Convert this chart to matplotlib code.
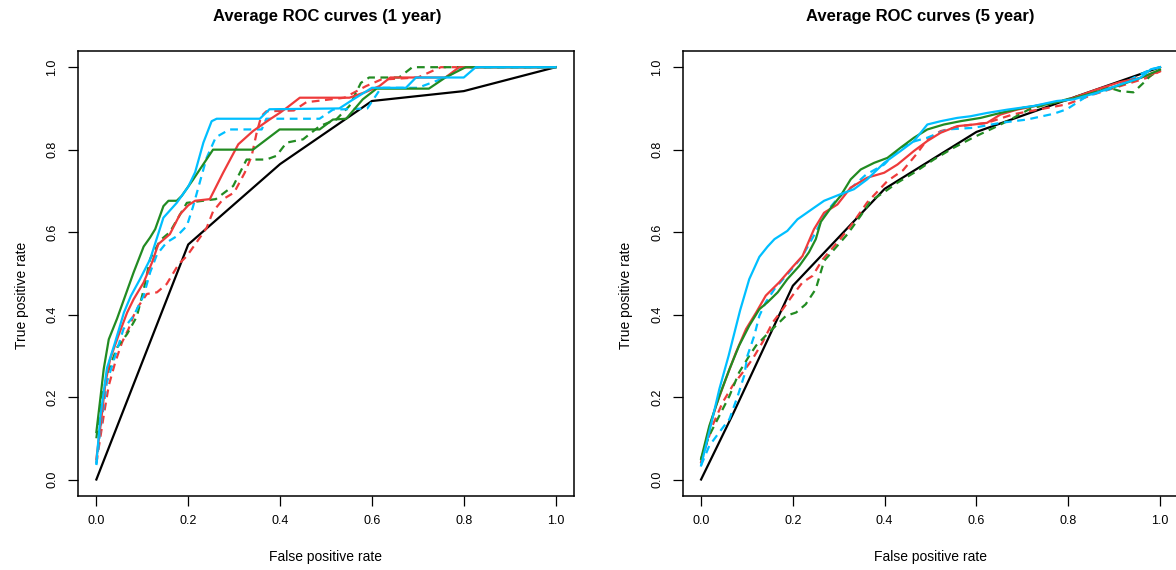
import matplotlib
matplotlib.use("Agg")
import matplotlib.pyplot as plt

plt.rcParams['font.family'] = ['Liberation Sans', 'DejaVu Sans']

# ---- 1 year ----
fpr_black_1y = [0, 0.2, 0.4, 0.6, 0.8, 1.0]
tpr_black_1y = [0, 0.57, 0.765, 0.918, 0.942, 1.0]

fpr_red_1y = [0, 0.009, 0.02, 0.03, 0.048, 0.067, 0.081, 0.103, 0.121, 0.135, 0.16, 0.182,
              0.2, 0.215, 0.247, 0.276, 0.309, 0.341, 0.377, 0.399, 0.414, 0.443, 0.551,
              0.587, 0.616, 0.64, 0.76, 0.79, 1.0]
tpr_red_1y = [0.05, 0.13, 0.236, 0.292, 0.349, 0.405, 0.437, 0.478, 0.526, 0.571, 0.595, 0.643,
              0.665, 0.676, 0.68, 0.744, 0.813, 0.845, 0.873, 0.889, 0.901, 0.926, 0.926,
              0.94, 0.954, 0.975, 0.975, 1.0, 1.0]

fpr_reddash_1y = [0, 0.016, 0.027, 0.041, 0.056, 0.07, 0.081, 0.092, 0.11, 0.132, 0.153, 0.179,
                  0.197, 0.218, 0.24, 0.254, 0.276, 0.3, 0.323, 0.338, 0.349, 0.359, 0.37,
                  0.43, 0.457, 0.54, 0.587, 0.62, 0.7, 0.75, 1.0]
tpr_reddash_1y = [0.04, 0.155, 0.228, 0.284, 0.333, 0.365, 0.397, 0.421, 0.45, 0.454, 0.474, 0.522,
                  0.542, 0.575, 0.61, 0.65, 0.68, 0.696, 0.744, 0.784, 0.841, 0.881, 0.893,
                  0.895, 0.915, 0.926, 0.954, 0.97, 0.975, 1.0, 1.0]

fpr_green_1y = [0, 0.009, 0.016, 0.027, 0.045, 0.063, 0.081, 0.103, 0.117, 0.128, 0.146, 0.157,
                0.175, 0.186, 0.211, 0.254, 0.341, 0.399, 0.486, 0.515, 0.544, 0.58, 0.61,
                0.724, 0.76, 0.804, 1.0]
tpr_green_1y = [0.115, 0.2, 0.268, 0.34, 0.39, 0.446, 0.502, 0.565, 0.587, 0.607, 0.663, 0.676,
                0.676, 0.688, 0.728, 0.8, 0.8, 0.849, 0.849, 0.873, 0.875, 0.922, 0.948,
                0.948, 0.975, 1.0, 1.0]

fpr_greendash_1y = [0, 0.01, 0.025, 0.045, 0.067, 0.088, 0.103, 0.117, 0.139, 0.16, 0.197, 0.26,
                    0.298, 0.327, 0.37, 0.392, 0.414, 0.45, 0.486, 0.522, 0.551, 0.576, 0.594,
                    0.659, 0.688, 1.0]
tpr_greendash_1y = [0.1, 0.19, 0.26, 0.32, 0.353, 0.395, 0.46, 0.535, 0.58, 0.6, 0.671, 0.68,
                    0.712, 0.776, 0.776, 0.785, 0.817, 0.825, 0.857, 0.873, 0.906, 0.962, 0.975,
                    0.975, 1.0, 1.0]

fpr_blue_1y = [0, 0.009, 0.023, 0.04, 0.06, 0.075, 0.095, 0.117, 0.146, 0.175, 0.2, 0.215,
               0.233, 0.251, 0.262, 0.356, 0.377, 0.529, 0.558, 0.6, 0.674, 0.696, 0.8,
               0.826, 1.0]
tpr_blue_1y = [0.04, 0.155, 0.27, 0.33, 0.405, 0.445, 0.486, 0.534, 0.635, 0.671, 0.71, 0.745,
               0.817, 0.869, 0.875, 0.875, 0.898, 0.9, 0.921, 0.95, 0.95, 0.975, 0.975,
               1.0, 1.0]

fpr_bluedash_1y = [0, 0.009, 0.023, 0.041, 0.059, 0.081, 0.103, 0.117, 0.132, 0.153, 0.175, 0.197,
                   0.21, 0.225, 0.24, 0.26, 0.29, 0.36, 0.37, 0.486, 0.515, 0.59, 0.62, 0.7,
                   0.76, 0.8, 1.0]
tpr_bluedash_1y = [0.035, 0.123, 0.236, 0.3, 0.365, 0.397, 0.446, 0.502, 0.546, 0.575, 0.59, 0.615,
                   0.66, 0.72, 0.78, 0.83, 0.849, 0.849, 0.875, 0.875, 0.897, 0.9, 0.95, 0.95,
                   0.975, 1.0, 1.0]

# ---- 5 year ----
fpr_black_5y = [0, 0.07, 0.2, 0.4, 0.6, 0.8, 1.0]
tpr_black_5y = [0, 0.16, 0.47, 0.705, 0.843, 0.922, 1.0]

fpr_red_5y = [0, 0.018, 0.033, 0.054, 0.076, 0.098, 0.12, 0.141, 0.17, 0.199, 0.221, 0.246,
              0.268, 0.297, 0.326, 0.362, 0.399, 0.428, 0.464, 0.493, 0.522, 0.558, 0.594,
              0.623, 0.652, 0.688, 0.746, 0.797, 0.862, 0.913, 0.957, 1.0]
tpr_red_5y = [0.042, 0.125, 0.18, 0.244, 0.308, 0.365, 0.405, 0.446, 0.478, 0.515, 0.542, 0.607,
              0.647, 0.667, 0.708, 0.732, 0.744, 0.764, 0.797, 0.821, 0.841, 0.857, 0.861,
              0.865, 0.885, 0.897, 0.91, 0.92, 0.946, 0.964, 0.974, 0.99]

fpr_reddash_5y = [0, 0.011, 0.025, 0.047, 0.069, 0.091, 0.112, 0.134, 0.156, 0.178, 0.199, 0.221,
                  0.243, 0.265, 0.297, 0.326, 0.362, 0.406, 0.44, 0.47, 0.493, 0.522, 0.565,
                  0.623, 0.681, 0.739, 0.797, 0.855, 0.913, 0.971, 1.0]
tpr_reddash_5y = [0.04, 0.082, 0.131, 0.187, 0.228, 0.26, 0.292, 0.333, 0.381, 0.413, 0.446, 0.478,
                  0.494, 0.534, 0.575, 0.615, 0.672, 0.724, 0.75, 0.79, 0.825, 0.845, 0.857,
                  0.865, 0.886, 0.898, 0.91, 0.934, 0.954, 0.974, 0.99]

fpr_green_5y = [0, 0.018, 0.04, 0.062, 0.083, 0.105, 0.127, 0.145, 0.167, 0.188, 0.214, 0.235,
                0.25, 0.261, 0.283, 0.304, 0.326, 0.348, 0.377, 0.406, 0.435, 0.464, 0.493,
                0.529, 0.565, 0.609, 0.652, 0.703, 0.754, 0.804, 0.855, 0.906, 0.957, 1.0]
tpr_green_5y = [0.05, 0.13, 0.203, 0.268, 0.325, 0.373, 0.413, 0.43, 0.454, 0.486, 0.518, 0.551,
                0.583, 0.625, 0.659, 0.688, 0.728, 0.752, 0.768, 0.78, 0.805, 0.829, 0.849,
                0.861, 0.869, 0.877, 0.889, 0.902, 0.91, 0.922, 0.938, 0.954, 0.974, 0.994]

fpr_greendash_5y = [0, 0.018, 0.04, 0.062, 0.083, 0.105, 0.12, 0.141, 0.163, 0.185, 0.207, 0.228,
                    0.25, 0.268, 0.297, 0.319, 0.348, 0.37, 0.399, 0.428, 0.464, 0.507, 0.551,
                    0.594, 0.638, 0.674, 0.715, 0.754, 0.797, 0.841, 0.884, 0.913, 0.942, 0.964,
                    0.978, 1.0]
tpr_greendash_5y = [0.05, 0.107, 0.155, 0.203, 0.26, 0.3, 0.325, 0.349, 0.373, 0.397, 0.405, 0.425,
                    0.462, 0.53, 0.567, 0.595, 0.64, 0.676, 0.697, 0.72, 0.744, 0.776, 0.805,
                    0.83, 0.853, 0.873, 0.898, 0.91, 0.922, 0.936, 0.952, 0.942, 0.939, 0.962,
                    0.978, 0.994]

fpr_blue_5y = [0, 0.02, 0.04, 0.06, 0.085, 0.105, 0.127, 0.145, 0.16, 0.188, 0.21, 0.246,
               0.268, 0.304, 0.333, 0.362, 0.399, 0.435, 0.464, 0.493, 0.522, 0.558, 0.587,
               0.623, 0.667, 0.725, 0.775, 0.812, 0.862, 0.913, 0.957, 0.98, 1.0]
tpr_blue_5y = [0.034, 0.125, 0.22, 0.3, 0.41, 0.486, 0.54, 0.565, 0.583, 0.603, 0.631, 0.659,
               0.676, 0.692, 0.704, 0.728, 0.768, 0.797, 0.821, 0.861, 0.869, 0.877, 0.881,
               0.889, 0.897, 0.906, 0.918, 0.922, 0.938, 0.958, 0.974, 0.995, 1.0]

fpr_bluedash_5y = [0, 0.018, 0.04, 0.062, 0.08, 0.094, 0.101, 0.116, 0.127, 0.141, 0.16, 0.19,
                   0.22, 0.25, 0.27, 0.3, 0.33, 0.36, 0.399, 0.435, 0.464, 0.493, 0.536, 0.594,
                   0.652, 0.71, 0.768, 0.797, 0.841, 0.899, 0.942, 0.978, 1.0]
tpr_bluedash_5y = [0.034, 0.082, 0.115, 0.147, 0.203, 0.252, 0.3, 0.349, 0.397, 0.43, 0.462, 0.5,
                   0.54, 0.6, 0.645, 0.685, 0.71, 0.74, 0.764, 0.805, 0.82, 0.829, 0.849, 0.853,
                   0.865, 0.873, 0.887, 0.898, 0.93, 0.95, 0.974, 0.994, 1.0]

ticks = [0.0, 0.2, 0.4, 0.6, 0.8, 1.0]
tick_labels = ["0.0", "0.2", "0.4", "0.6", "0.8", "1.0"]
titles = ["Average ROC curves (1 year)", "Average ROC curves (5 year)"]

RED = "#EE3B3B"
GREEN = "#228B22"
BLUE = "#00BFFF"

W, H = 1176, 570
fig = plt.figure(figsize=(W / 100, H / 100), dpi=100)


def px_axes(left, top, right, bottom):
    return fig.add_axes([left / W, 1 - bottom / H, (right - left) / W, (bottom - top) / H])


def draw_panel(ax, curves):
    for fpr, tpr, col, dashed in curves:
        ln, = ax.plot(fpr, tpr, color=col, lw=1.6)
        if dashed:
            ln.set_dashes((3.5, 2.5))
    ax.set_xlim(-0.04, 1.04)
    ax.set_ylim(-0.04, 1.04)
    ax.set_xticks(ticks)
    ax.set_xticklabels(tick_labels)
    ax.set_yticks(ticks)
    ax.set_yticklabels(tick_labels, rotation=90, va="center")
    ax.tick_params(direction="out", length=7, width=0.9, labelsize=9, pad=7)
    for s in ax.spines.values():
        s.set_linewidth(1.1)


ax1 = px_axes(78, 50.7, 574, 496)
draw_panel(ax1, [
    (fpr_black_1y, tpr_black_1y, "black", False),
    (fpr_reddash_1y, tpr_reddash_1y, RED, True),
    (fpr_greendash_1y, tpr_greendash_1y, GREEN, True),
    (fpr_bluedash_1y, tpr_bluedash_1y, BLUE, True),
    (fpr_red_1y, tpr_red_1y, RED, False),
    (fpr_green_1y, tpr_green_1y, GREEN, False),
    (fpr_blue_1y, tpr_blue_1y, BLUE, False),
])

ax2 = px_axes(682.7, 50.7, 1178.4, 496)
draw_panel(ax2, [
    (fpr_black_5y, tpr_black_5y, "black", False),
    (fpr_reddash_5y, tpr_reddash_5y, RED, True),
    (fpr_greendash_5y, tpr_greendash_5y, GREEN, True),
    (fpr_bluedash_5y, tpr_bluedash_5y, BLUE, True),
    (fpr_red_5y, tpr_red_5y, RED, False),
    (fpr_green_5y, tpr_green_5y, GREEN, False),
    (fpr_blue_5y, tpr_blue_5y, BLUE, False),
])

# titles and axis labels
fig.text(327 / W, 1 - 17 / H, titles[0], ha="center", va="center", fontsize=12, fontweight="bold")
fig.text(920 / W, 1 - 17 / H, titles[1], ha="center", va="center", fontsize=12, fontweight="bold")
for cx in (326, 930):
    fig.text(cx / W, 1 - 557 / H, "False positive rate", ha="center", va="center", fontsize=10)
for cx in (22, 626):
    fig.text(cx / W, 1 - 295 / H, "True positive rate", ha="center", va="center",
             rotation=90, fontsize=10)

fig.savefig("out.png", dpi=100)
